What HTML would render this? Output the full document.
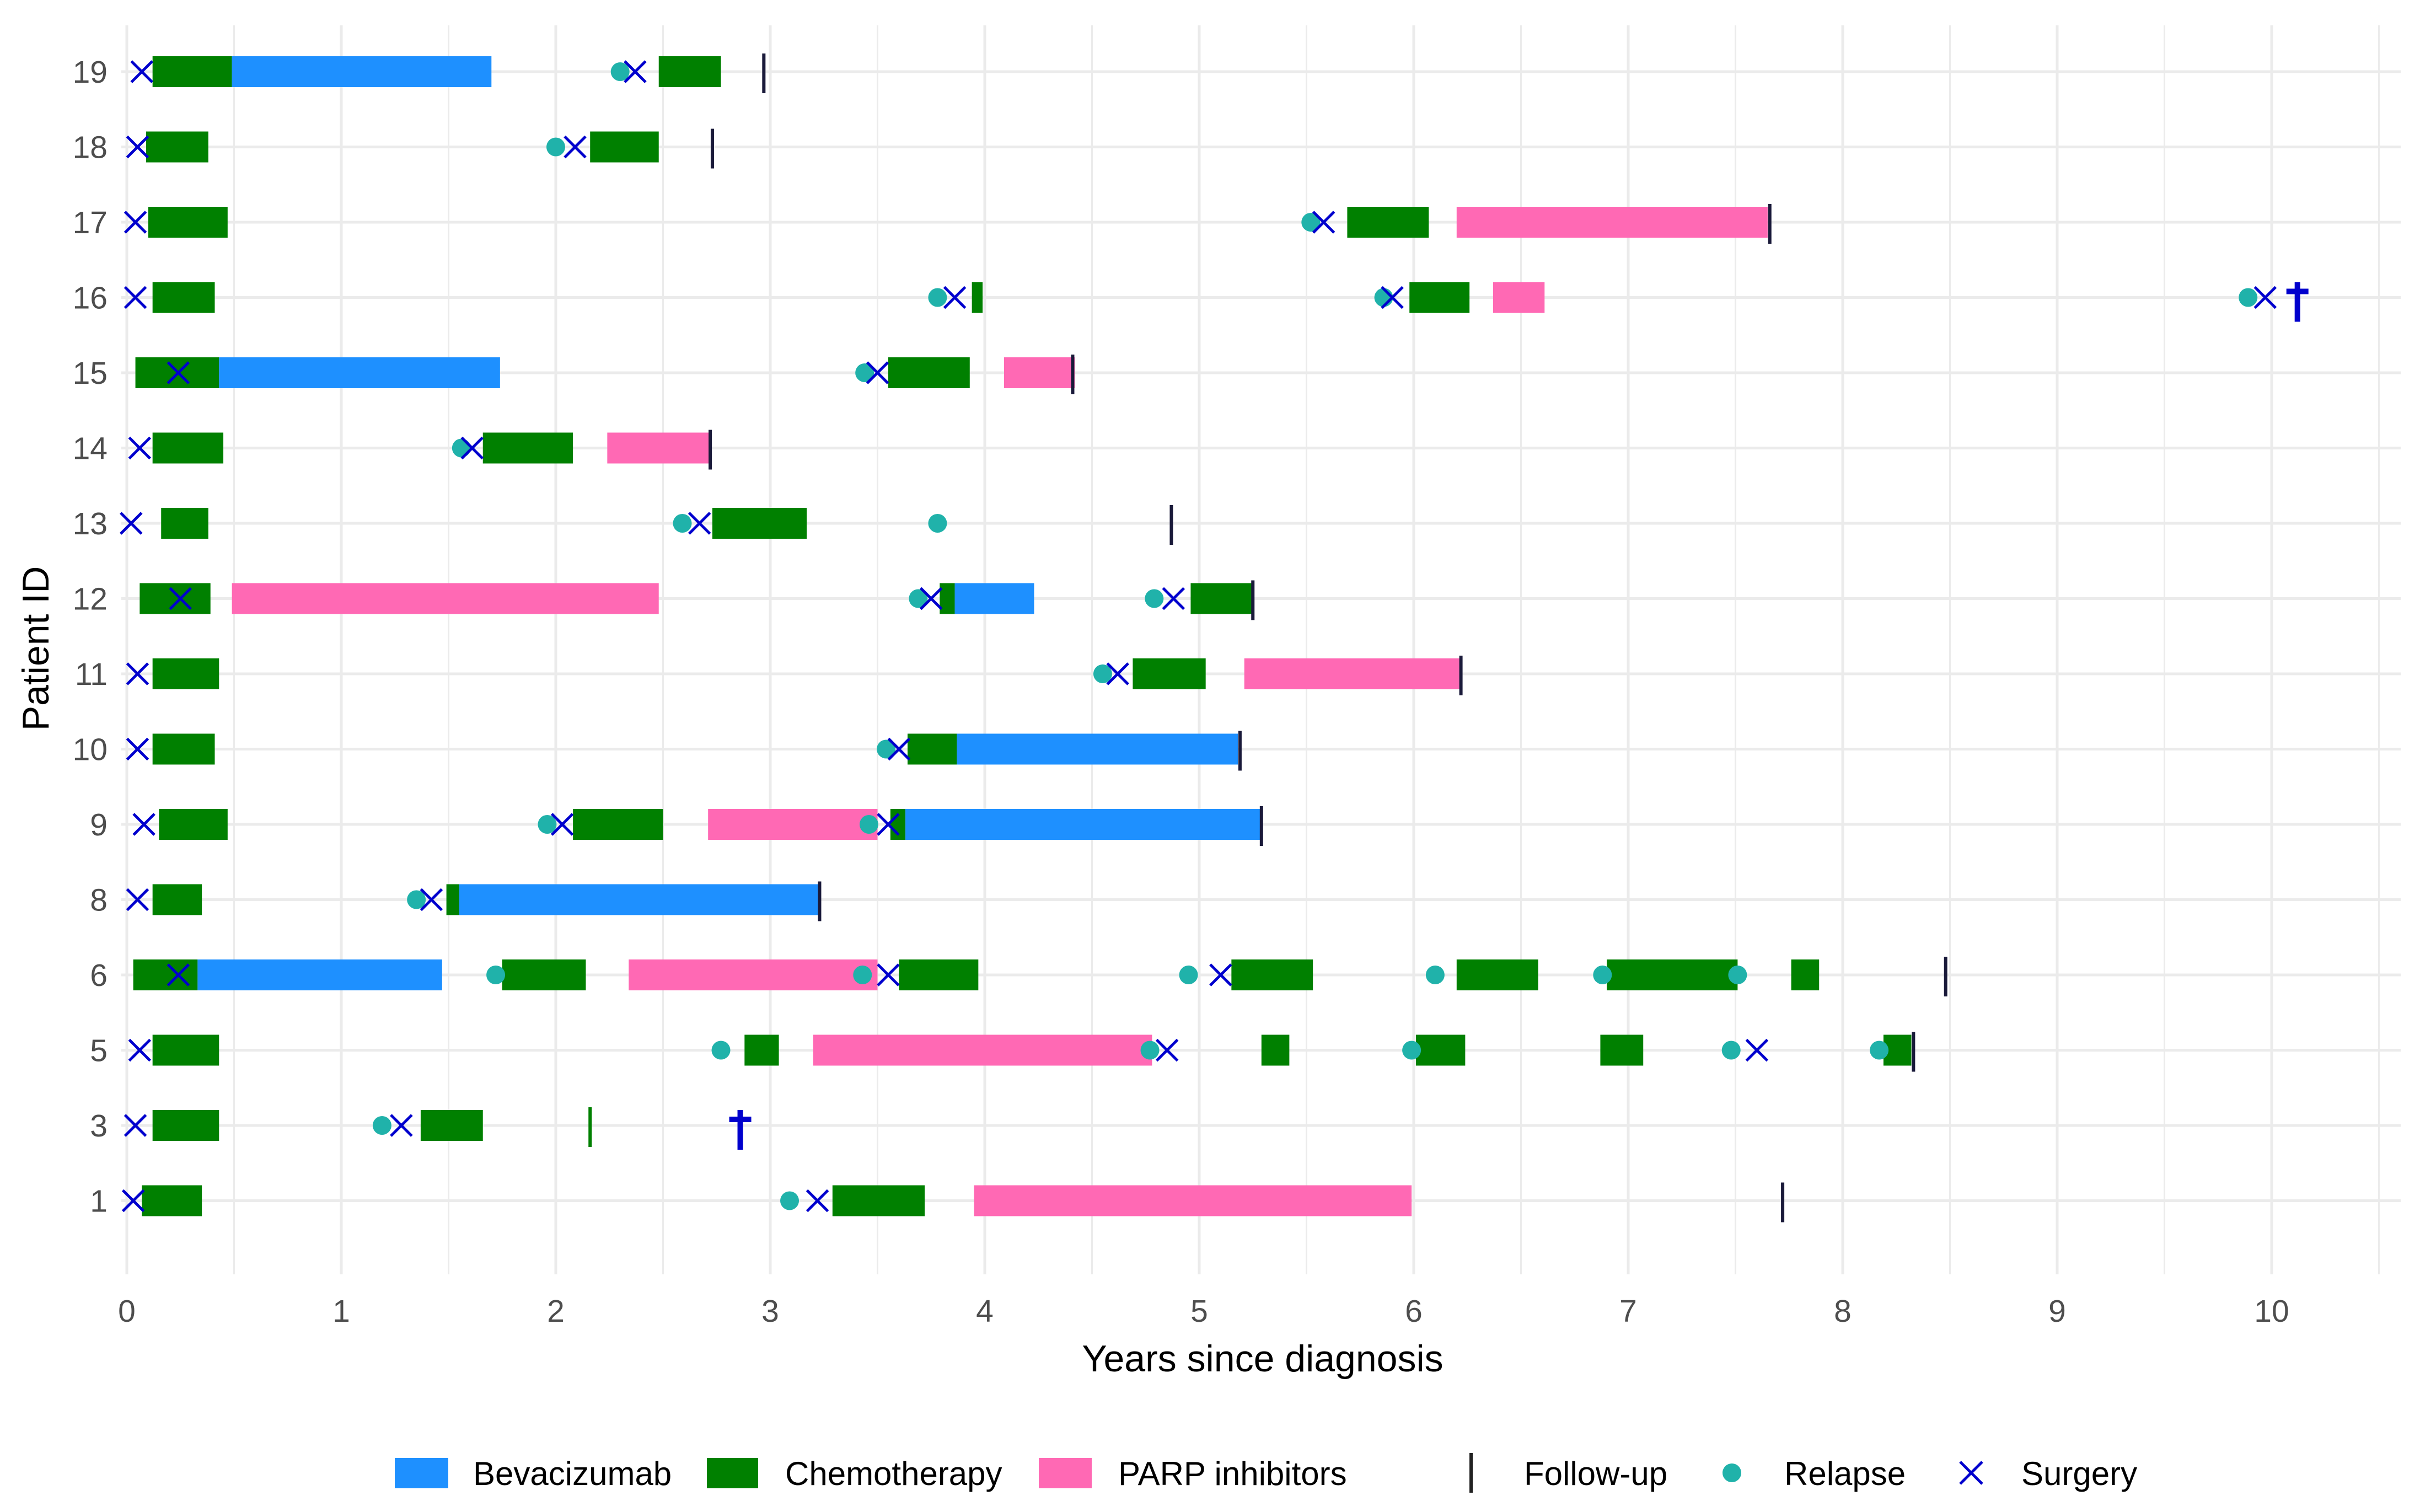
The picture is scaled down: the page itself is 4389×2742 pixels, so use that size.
<!DOCTYPE html>
<html><head><meta charset="utf-8">
<style>
html,body{margin:0;padding:0;background:#fff;}
svg{display:block;font-family:"Liberation Sans",Arial,sans-serif;}
</style></head>
<body>
<svg id="chart" width="4389" height="2742" viewBox="0 0 4389 2742" xmlns="http://www.w3.org/2000/svg">
<g id="grid"></g>
<g id="bars"></g>
<g id="marks"></g>
<g id="axes"></g>
<text x="2290" y="2487" font-size="68" text-anchor="middle" fill="#000">Years since diagnosis</text>
<text x="88" y="1176" font-size="68" text-anchor="middle" fill="#000" transform="rotate(-90 88 1176)">Patient ID</text>
<g id="legend">
  <rect x="716" y="2644" width="97" height="55" fill="#1e90ff"/>
  <text x="858" y="2693" font-size="60">Bevacizumab</text>
  <rect x="1282" y="2644" width="93" height="55" fill="#008000"/>
  <text x="1424" y="2693" font-size="60">Chemotherapy</text>
  <rect x="1884" y="2644" width="96" height="55" fill="#ff69b4"/>
  <text x="2028" y="2693" font-size="60">PARP inhibitors</text>
  <rect x="2665" y="2635" width="6" height="72" fill="#222"/>
  <text x="2764" y="2693" font-size="60">Follow-up</text>
  <circle cx="3141" cy="2671" r="17" fill="#20b2aa"/>
  <text x="3236" y="2693" font-size="60">Relapse</text>
  <path d="M3555 2651 L3595 2691 M3595 2651 L3555 2691" stroke="#0000cd" stroke-width="5"/>
  <text x="3666" y="2693" font-size="60">Surgery</text>
</g>
</svg>
<script>
// ---- data ----
const patients = ["19","18","17","16","15","14","13","12","11","10","9","8","6","5","3","1"];
const xTicks = [0,1,2,3,4,5,6,7,8,9,10];
const chemo = [
 ["19",0.12,0.49],["19",2.48,2.77],
 ["18",0.09,0.38],["18",2.16,2.48],
 ["17",0.10,0.47],["17",5.69,6.07],
 ["16",0.12,0.41],["16",3.94,3.99],["16",5.98,6.26],
 ["15",0.04,0.43],["15",3.55,3.93],
 ["14",0.12,0.45],["14",1.66,2.08],
 ["13",0.16,0.38],["13",2.73,3.17],
 ["12",0.06,0.39],["12",3.79,3.86],["12",4.96,5.25],
 ["11",0.12,0.43],["11",4.69,5.03],
 ["10",0.12,0.41],["10",3.64,3.87],
 ["9",0.15,0.47],["9",2.08,2.50],["9",3.56,3.63],
 ["8",0.12,0.35],["8",1.49,1.55],
 ["6",0.03,0.33],["6",1.75,2.14],["6",3.60,3.97],["6",5.15,5.53],["6",6.20,6.58],["6",6.90,7.51],["6",7.76,7.89],
 ["5",0.12,0.43],["5",2.88,3.04],["5",5.29,5.42],["5",6.01,6.24],["5",6.87,7.07],["5",8.19,8.32],
 ["3",0.12,0.43],["3",1.37,1.66],
 ["1",0.07,0.35],["1",3.29,3.72]
];
const bevacizumab = [
 ["19",0.49,1.70],["15",0.43,1.74],["12",3.86,4.23],["10",3.87,5.18],["9",3.63,5.29],["8",1.55,3.23],["6",0.33,1.47]
];
const parp = [
 ["17",6.20,7.65],["16",6.37,6.61],["15",4.09,4.42],["14",2.24,2.72],["12",0.49,2.48],["11",5.21,6.22],
 ["9",2.71,3.50],["6",2.34,3.50],["5",3.20,4.78],["1",3.95,5.99]
];
const relapse = [
 ["19",2.30],["18",2.00],["17",5.52],["16",3.78],["16",5.86],["16",9.89],["15",3.44],["14",1.56],
 ["13",2.59],["13",3.78],["12",3.69],["12",4.79],["11",4.55],["10",3.54],["9",1.96],["9",3.46],["8",1.35],
 ["6",1.72],["6",3.43],["6",4.95],["6",6.10],["6",6.88],["6",7.51],
 ["5",2.77],["5",4.77],["5",5.99],["5",7.48],["5",8.17],["3",1.19],["1",3.09]
];
const surgery = [
 ["19",0.07],["19",2.37],["18",0.05],["18",2.09],["17",0.04],["17",5.58],["16",0.04],["16",3.86],["16",5.90],["16",9.97],
 ["15",0.24],["15",3.50],["14",0.06],["14",1.61],["13",0.02],["13",2.67],["12",0.25],["12",3.75],["12",4.88],
 ["11",0.05],["11",4.62],["10",0.05],["10",3.60],["9",0.08],["9",2.03],["9",3.55],["8",0.05],["8",1.42],
 ["6",0.24],["6",3.55],["6",5.10],["5",0.06],["5",4.85],["5",7.60],["3",0.04],["3",1.28],["1",0.03],["1",3.22]
];
const followUp = [
 ["19",2.97],["18",2.73],["17",7.66],["15",4.41],["14",2.72],["13",4.87],["12",5.25],["11",6.22],["10",5.19],
 ["9",5.29],["8",3.23],["6",8.48],["5",8.33],["3",2.16],["1",7.72]
];
const followUpColor = {"3":"#008000"};
const deaths = [["16",10.12],["3",2.86]];

// ---- scales ----
const X0 = 230, PXY = 389, PLOT_R = 4354, PLOT_T = 46, PLOT_B = 2311;
const ROW0 = 130, ROWSTEP = 136.5;
function xs(v){ return X0 + v*PXY; }
function ys(p){ return ROW0 + patients.indexOf(p)*ROWSTEP; }
const NS = "http://www.w3.org/2000/svg";
function mk(tag, attrs, parent){
  const e = document.createElementNS(NS, tag);
  for (const k in attrs) e.setAttribute(k, attrs[k]);
  parent.appendChild(e); return e;
}
const grid = document.getElementById('grid');
const bars = document.getElementById('bars');
const marks = document.getElementById('marks');
const axes = document.getElementById('axes');

// grid
for (let v = 0; xs(v) <= PLOT_R; v += 0.5) {
  const major = Math.abs(v - Math.round(v)) < 1e-9;
  const l = mk('line', {x1:xs(v), x2:xs(v), y1:PLOT_T, y2:PLOT_B, stroke:'#ebebeb', 'stroke-width': major?5:3}, grid);
  
  
}
patients.forEach(p => {
  const l = mk('line', {x1:X0-10, x2:PLOT_R, y1:ys(p), y2:ys(p), stroke:'#ebebeb', 'stroke-width':5}, grid);
  
  
  const t = mk('text', {x:195, y:ys(p)+20, 'font-size':57, 'text-anchor':'end', fill:'#4d4d4d'}, axes);
  t.textContent = p;
  
  
});
xTicks.forEach(v => {
  const t = mk('text', {x:xs(v), y:2397, 'font-size':57, 'text-anchor':'middle', fill:'#4d4d4d'}, axes);
  t.textContent = v;
  
  
});

// bars
const BH = 56;
function drawBars(arr, color, name){
  arr.forEach(d => {
    const r = mk('rect', {x:xs(d[1]), y:ys(d[0])-BH/2, width:Math.max(2, xs(d[2])-xs(d[1])), height:BH, fill:color}, bars);
    
    
  });
}
drawBars(chemo, '#008000', 'chemotherapy-bar');
drawBars(bevacizumab, '#1e90ff', 'bevacizumab-bar');
drawBars(parp, '#ff69b4', 'parp-bar');

// follow-up
followUp.forEach(d => {
  const r = mk('rect', {x:xs(d[1])-3, y:ys(d[0])-33, width:6, height:72, fill: followUpColor[d[0]] || '#1a1a3a'}, marks);
  
  
});
// relapse
relapse.forEach(d => {
  const c = mk('circle', {cx:xs(d[1]), cy:ys(d[0]), r:17, fill:'#20b2aa'}, marks);
  
  
});
// surgery
surgery.forEach(d => {
  const x = xs(d[1]), y = ys(d[0]), s = 19;
  const p = mk('path', {d:`M${x-s} ${y-s} L${x+s} ${y+s} M${x+s} ${y-s} L${x-s} ${y+s}`, stroke:'#0000cd', 'stroke-width':5, fill:'none'}, marks);
  
  
});
// deaths
deaths.forEach(d => {
  const x = xs(d[1]), y = ys(d[0]);
  const p = mk('path', {d:`M${x} ${y-28} L${x} ${y+44} M${x-20} ${y-11} L${x+20} ${y-11}`, stroke:'#0000cd', 'stroke-width':10, fill:'none'}, marks);
  
  
});
</script>
</body></html>
